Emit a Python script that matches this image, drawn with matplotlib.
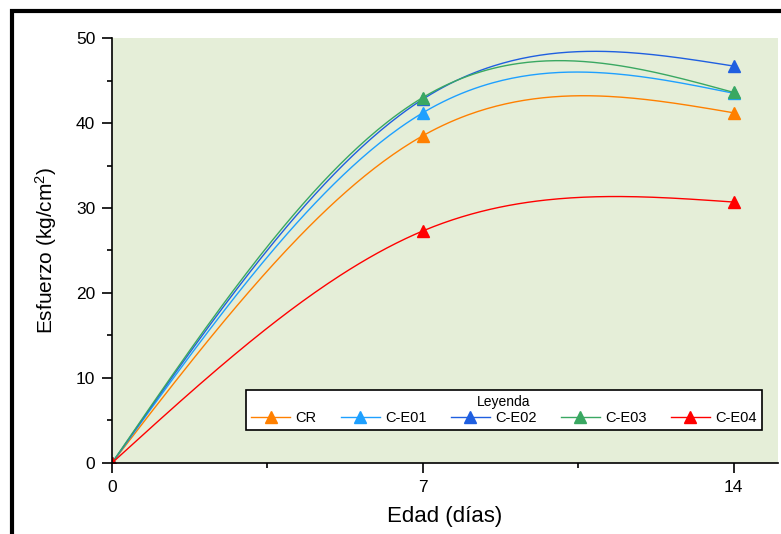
import numpy as np
import matplotlib
matplotlib.use("Agg")
from matplotlib import pyplot as plt
from matplotlib.patches import Rectangle
from matplotlib.ticker import MultipleLocator

plt.rcParams['font.family'] = ['Liberation Sans', 'DejaVu Sans']
plt.rcParams['mathtext.default'] = 'regular'

# datos
edad = [0, 7, 14]
series = ["CR", "C-E01", "C-E02", "C-E03", "C-E04"]
cr = [0, 38.5, 41.2]
ce01 = [0, 41.2, 43.5]
ce02 = [0, 42.8, 46.7]
ce03 = [0, 43.0, 43.6]
ce04 = [0, 27.3, 30.7]
valores = [cr, ce01, ce02, ce03, ce04]
colores = ["#FF8000", "#1EA0FF", "#1F5FE0", "#3AA862", "#FF0000"]


def spline_natural(x, y, n=200):
    # spline cubico natural, como la conexion "Spline" de Origin
    x = np.asarray(x, float)
    y = np.asarray(y, float)
    k = len(x)
    h = np.diff(x)
    A = np.zeros((k, k))
    b = np.zeros(k)
    A[0, 0] = 1
    A[-1, -1] = 1
    for i in range(1, k - 1):
        A[i, i - 1] = h[i - 1] / 6
        A[i, i] = (h[i - 1] + h[i]) / 3
        A[i, i + 1] = h[i] / 6
        b[i] = (y[i + 1] - y[i]) / h[i] - (y[i] - y[i - 1]) / h[i - 1]
    M = np.linalg.solve(A, b)
    xs = np.linspace(x[0], x[-1], n)
    ys = np.empty_like(xs)
    for j, xv in enumerate(xs):
        i = min(np.searchsorted(x, xv, side='right') - 1, k - 2)
        a = x[i + 1] - xv
        c = xv - x[i]
        ys[j] = (M[i] * a**3 + M[i + 1] * c**3) / (6 * h[i]) \
            + (y[i] / h[i] - M[i] * h[i] / 6) * a \
            + (y[i + 1] / h[i] - M[i + 1] * h[i] / 6) * c
    return xs, ys


fig = plt.figure(figsize=(7.81, 5.34), dpi=100)
ax = fig.add_axes([0.1434, 0.1330, 0.8528, 0.7958])
ax.set_facecolor("#E5EED8")

for nombre, v, col in zip(series, valores, colores):
    xs, ys = spline_natural(edad, v)
    ax.plot(xs, ys, color=col, lw=1.0)
    ax.plot(edad, v, linestyle='none', marker='^', markersize=8, color=col)
    ax.plot([], [], color=col, lw=1.0, marker='^', markersize=8, label=nombre)

ax.set_xlim(0, 15)
ax.set_ylim(0, 50)
ax.set_xticks([0, 7, 14])
ax.xaxis.set_minor_locator(MultipleLocator(3.5))
ax.yaxis.set_major_locator(MultipleLocator(10))
ax.yaxis.set_minor_locator(MultipleLocator(5))
ax.tick_params(which='both', direction='out', width=1.2, labelsize=12.5, pad=5)
ax.tick_params(which='major', length=7)
ax.tick_params(which='minor', length=3.6)
ax.spines['top'].set_visible(False)
ax.spines['right'].set_visible(False)
ax.spines['left'].set_linewidth(1.2)
ax.spines['bottom'].set_linewidth(1.2)

ax.set_xlabel("Edad (días)", fontsize=16, labelpad=8)
ax.set_ylabel("Esfuerzo (kg/cm$^2$)", fontsize=15, labelpad=12)

leg = ax.legend(loc='lower left', bbox_to_anchor=(0.201, 0.078),
                ncol=5, borderaxespad=0, fontsize=10.5,
                title="Leyenda", title_fontsize=10, fancybox=False,
                framealpha=1, edgecolor='black', handlelength=2.7,
                handletextpad=0.35, borderpad=0.35, labelspacing=0.1,
                columnspacing=1.65)
leg.get_frame().set_linewidth(1.2)

# marco negro de la figura
fig.patches.append(Rectangle((0.015, -0.05), 1.2, 1.03, transform=fig.transFigure,
                             fill=False, edgecolor='black', linewidth=3))

fig.savefig("out.png", dpi=100)
